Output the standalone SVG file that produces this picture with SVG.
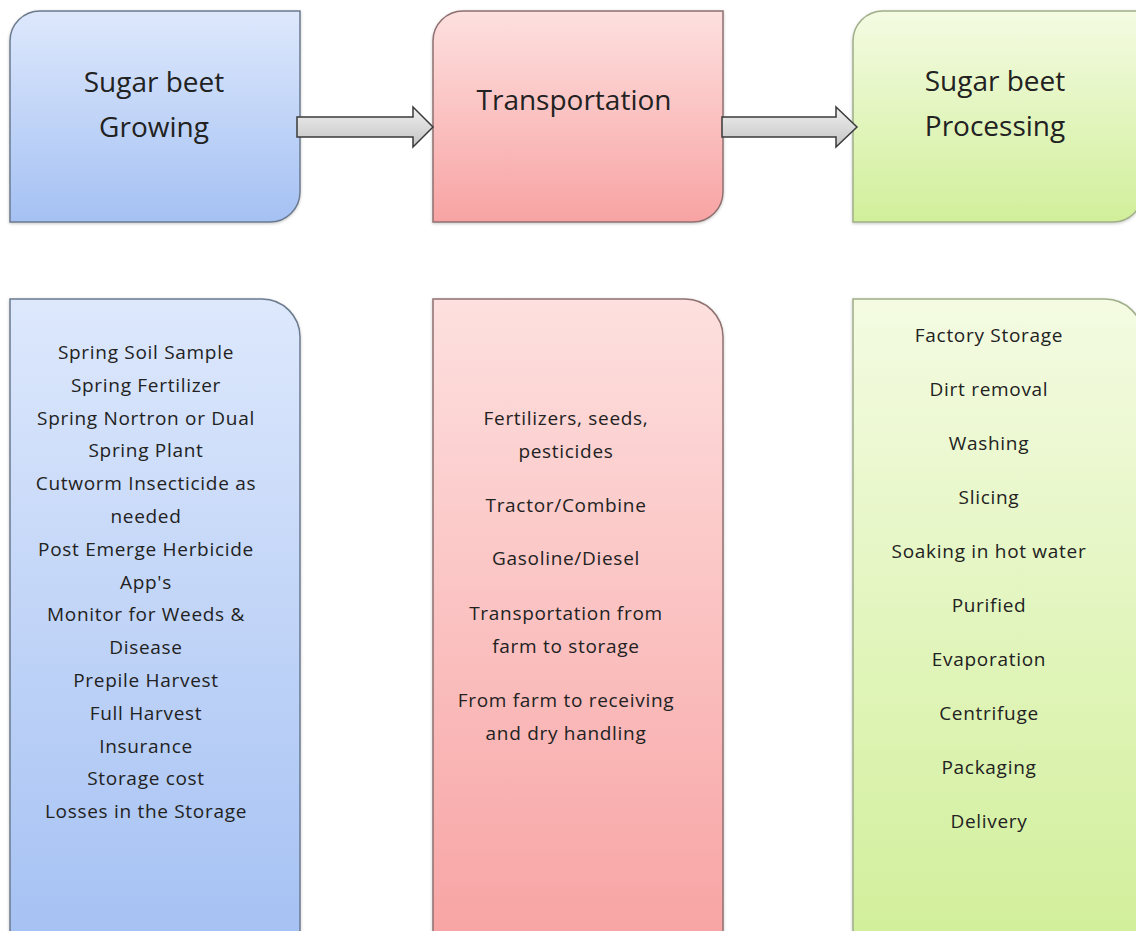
<svg xmlns="http://www.w3.org/2000/svg" width="1136" height="931" viewBox="0 0 1136 931">
  <defs>
    <linearGradient id="gBlue" x1="0" y1="0" x2="0" y2="1">
      <stop offset="0" stop-color="#dde8fc"/>
      <stop offset="1" stop-color="#a5c1f3"/>
    </linearGradient>
    <linearGradient id="gRed" x1="0" y1="0" x2="0" y2="1">
      <stop offset="0" stop-color="#fde0df"/>
      <stop offset="1" stop-color="#f8a3a3"/>
    </linearGradient>
    <linearGradient id="gGreen" x1="0" y1="0" x2="0" y2="1">
      <stop offset="0" stop-color="#f4fbe2"/>
      <stop offset="1" stop-color="#d1ef9a"/>
    </linearGradient>
    <linearGradient id="gArrow" x1="0" y1="0" x2="0" y2="1">
      <stop offset="0" stop-color="#f0f0f0"/>
      <stop offset="1" stop-color="#c4c4c4"/>
    </linearGradient>
    <filter id="shadow" x="-5%" y="-5%" width="110%" height="110%">
      <feDropShadow dx="0" dy="1" stdDeviation="1.5" flood-color="#000" flood-opacity="0.22"/>
    </filter>
    <style>
      .box { filter: url(#shadow); stroke-width: 1.5; }
      .blue { fill: url(#gBlue); stroke: #6b7a8e; }
      .red { fill: url(#gRed); stroke: #8e7070; }
      .green { fill: url(#gGreen); stroke: #9fae88; }
      .arrow { fill: url(#gArrow); stroke: #3a3a3a; stroke-width: 1.5; stroke-linejoin: miter; }
      .title { font-family: "Open Sans", "Noto Sans", sans-serif; font-size: 28px; fill: #222; text-anchor: middle; }
      .item { font-family: "Open Sans", "Noto Sans", sans-serif; font-size: 19px; letter-spacing: 0.7px; fill: #222; text-anchor: middle; }
    </style>
  </defs>

  <g id="node-growing">
    <path class="box blue" d="M40,11 H300 V192 A30,30 0 0 1 270,222 H10 V41 A30,30 0 0 1 40,11 Z"/>
    <text class="title" x="154" y="92">Sugar beet</text>
    <text class="title" x="154" y="137">Growing</text>
  </g>

  <g id="node-transportation">
    <path class="box red" d="M463,11 H723 V192 A30,30 0 0 1 693,222 H433 V41 A30,30 0 0 1 463,11 Z"/>
    <text class="title" x="574" y="110">Transportation</text>
  </g>

  <g id="node-processing">
    <path class="box green" d="M883,11 H1143 V192 A30,30 0 0 1 1113,222 H853 V41 A30,30 0 0 1 883,11 Z"/>
    <text class="title" x="995" y="91">Sugar beet</text>
    <text class="title" x="995" y="136">Processing</text>
  </g>

  <g id="node-growing-details">
    <path class="box blue" d="M10,299 H262 A38,38 0 0 1 300,337 V945 H10 Z"/>
    <text class="item" x="146" y="359">Spring Soil Sample</text>
    <text class="item" x="146" y="392">Spring Fertilizer</text>
    <text class="item" x="146" y="425">Spring Nortron or Dual</text>
    <text class="item" x="146" y="457">Spring Plant</text>
    <text class="item" x="146" y="490">Cutworm Insecticide as</text>
    <text class="item" x="146" y="523">needed</text>
    <text class="item" x="146" y="556">Post Emerge Herbicide</text>
    <text class="item" x="146" y="589">App's</text>
    <text class="item" x="146" y="621">Monitor for Weeds &amp;</text>
    <text class="item" x="146" y="654">Disease</text>
    <text class="item" x="146" y="687">Prepile Harvest</text>
    <text class="item" x="146" y="720">Full Harvest</text>
    <text class="item" x="146" y="753">Insurance</text>
    <text class="item" x="146" y="785">Storage cost</text>
    <text class="item" x="146" y="818">Losses in the Storage</text>
  </g>

  <g id="node-transportation-details">
    <path class="box red" d="M433,299 H685 A38,38 0 0 1 723,337 V945 H433 Z"/>
    <text class="item" x="566" y="425">Fertilizers, seeds,</text>
    <text class="item" x="566" y="458">pesticides</text>
    <text class="item" x="566" y="512">Tractor/Combine</text>
    <text class="item" x="566" y="565">Gasoline/Diesel</text>
    <text class="item" x="566" y="620">Transportation from</text>
    <text class="item" x="566" y="653">farm to storage</text>
    <text class="item" x="566" y="707">From farm to receiving</text>
    <text class="item" x="566" y="740">and dry handling</text>
  </g>

  <g id="node-processing-details">
    <path class="box green" d="M853,299 H1105 A38,38 0 0 1 1143,337 V945 H853 Z"/>
    <text class="item" x="989" y="342">Factory Storage</text>
    <text class="item" x="989" y="396">Dirt removal</text>
    <text class="item" x="989" y="450">Washing</text>
    <text class="item" x="989" y="504">Slicing</text>
    <text class="item" x="989" y="558">Soaking in hot water</text>
    <text class="item" x="989" y="612">Purified</text>
    <text class="item" x="989" y="666">Evaporation</text>
    <text class="item" x="989" y="720">Centrifuge</text>
    <text class="item" x="989" y="774">Packaging</text>
    <text class="item" x="989" y="828">Delivery</text>
  </g>

  <g id="connectors">
    <path class="arrow" d="M297,117 H413 V107 L433,127 L413,147 V137 H297 Z"/>
    <path class="arrow" d="M722,117 H836 V107 L857,127 L836,147 V137 H722 Z"/>
  </g>
</svg>
